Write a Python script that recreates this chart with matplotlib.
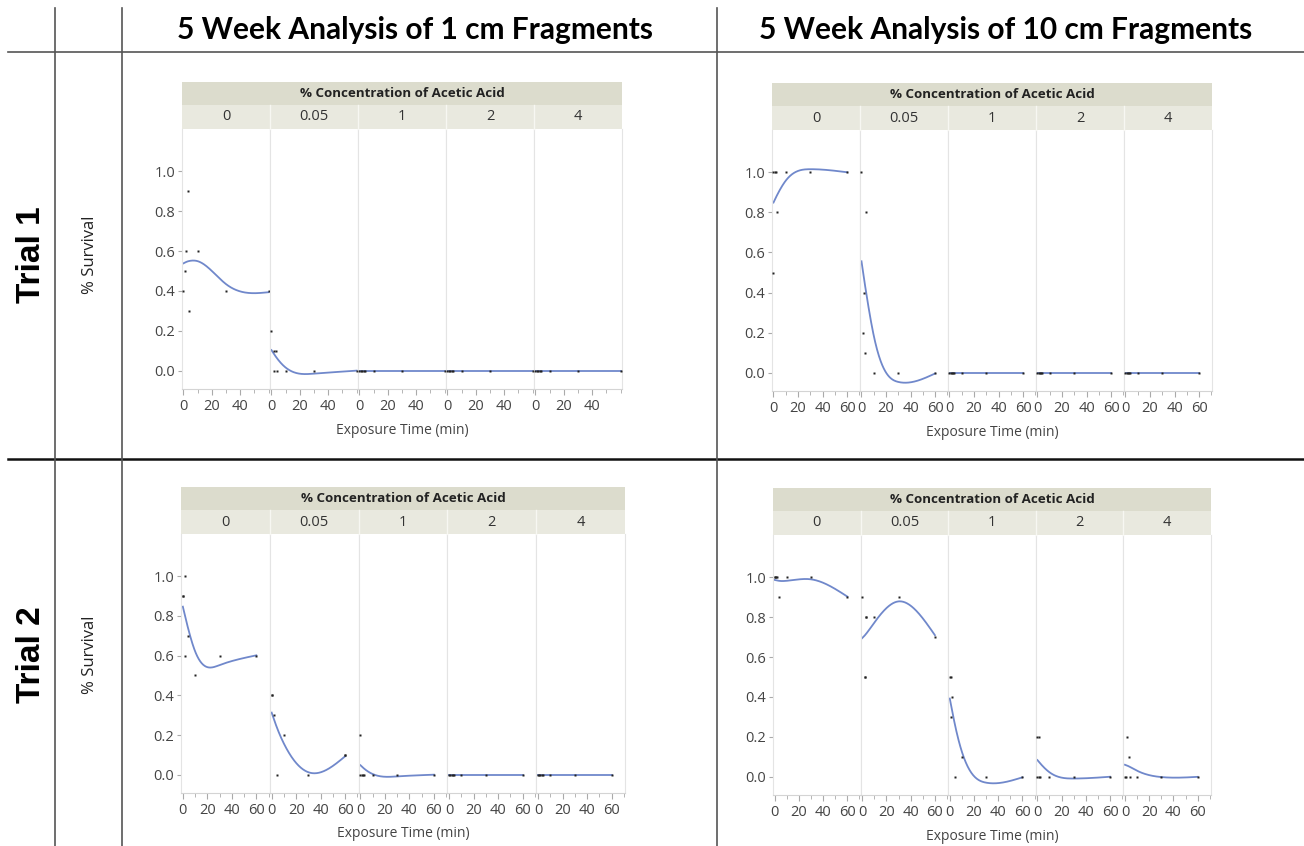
import numpy as np
import matplotlib
matplotlib.use("Agg")
import matplotlib.pyplot as plt
from matplotlib.patches import Rectangle
from matplotlib.lines import Line2D
from matplotlib.ticker import MultipleLocator, FixedLocator

W, H = 1304, 846

concentrations = ["0", "0.05", "1", "2", "4"]
col_titles = ["5 Week Analysis of 1 cm Fragments", "5 Week Analysis of 10 cm Fragments"]
row_titles = ["Trial 1", "Trial 2"]

# long format: facet index into concentrations, exposure time (min), survival
t1_1cm_conc = [0, 0, 0, 0, 0, 0, 0, 0,
               1, 1, 1, 1, 1, 1, 1, 1,
               2, 2, 2, 2, 2, 2, 2, 2,
               3, 3, 3, 3, 3, 3, 3, 3,
               4, 4, 4, 4, 4, 4, 4, 4]
t1_1cm_time = [0, 1, 2, 3, 4, 10, 30, 60,
               0, 2, 3, 2, 4, 10, 30, 60,
               0, 1, 2, 3, 4, 10, 30, 60,
               0, 1, 2, 3, 4, 10, 30, 60,
               0, 1, 2, 3, 4, 10, 30, 60]
t1_1cm_surv = [0.4, 0.5, 0.6, 0.9, 0.3, 0.6, 0.4, 0.4,
               0.2, 0.1, 0.1, 0.0, 0.0, 0.0, 0.0, 0.0,
               0, 0, 0, 0, 0, 0, 0, 0,
               0, 0, 0, 0, 0, 0, 0, 0,
               0, 0, 0, 0, 0, 0, 0, 0]

t1_10cm_conc = t1_1cm_conc
t1_10cm_time = [0, 0, 1, 2, 3, 10, 30, 60,
                0, 1, 2, 3, 4, 10, 30, 60,
                0, 1, 2, 3, 4, 10, 30, 60,
                0, 1, 2, 3, 4, 10, 30, 60,
                0, 1, 2, 3, 4, 10, 30, 60]
t1_10cm_surv = [0.5, 1.0, 1.0, 1.0, 0.8, 1.0, 1.0, 1.0,
                1.0, 0.2, 0.4, 0.1, 0.8, 0.0, 0.0, 0.0,
                0, 0, 0, 0, 0, 0, 0, 0,
                0, 0, 0, 0, 0, 0, 0, 0,
                0, 0, 0, 0, 0, 0, 0, 0]

t2_1cm_conc = t1_1cm_conc
t2_1cm_time = [0, 0, 2, 2, 4, 10, 30, 60,
               0, 0, 2, 4, 10, 30, 60, 60,
               0, 0, 1, 2, 3, 10, 30, 60,
               0, 1, 2, 3, 4, 10, 30, 60,
               0, 1, 2, 3, 4, 10, 30, 60]
t2_1cm_surv = [0.9, 0.9, 1.0, 0.6, 0.7, 0.5, 0.6, 0.6,
               0.4, 0.4, 0.3, 0.0, 0.2, 0.0, 0.1, 0.1,
               0.2, 0, 0, 0, 0, 0, 0, 0,
               0, 0, 0, 0, 0, 0, 0, 0,
               0, 0, 0, 0, 0, 0, 0, 0]

t2_10cm_conc = t1_1cm_conc
t2_10cm_time = [0, 1, 2, 4, 10, 30, 60, 0,
                0, 2, 2, 3, 10, 30, 60, 3,
                0, 1, 1, 2, 4, 10, 30, 60,
                0, 1, 0, 1, 2, 10, 30, 60,
                2, 3, 0, 1, 4, 10, 30, 60]
t2_10cm_surv = [1.0, 1.0, 1.0, 0.9, 1.0, 1.0, 0.9, 1.0,
                0.9, 0.5, 0.5, 0.8, 0.8, 0.9, 0.7, 0.8,
                0.5, 0.5, 0.3, 0.4, 0.0, 0.1, 0.0, 0.0,
                0.2, 0.2, 0.0, 0.0, 0.0, 0.0, 0.0, 0.0,
                0.2, 0.1, 0.0, 0.0, 0.0, 0.0, 0.0, 0.0]


def smooth_spline(x, y, lam=0.05, n=200):
    # cubic smoothing spline on standardized x (Reinsch form)
    x = np.asarray(x, float)
    y = np.asarray(y, float)
    mu, sd = x.mean(), x.std(ddof=1)
    xs = (x - mu) / sd
    ux, inv = np.unique(xs, return_inverse=True)
    w = np.bincount(inv).astype(float)
    ybar = np.bincount(inv, weights=y) / w
    m = len(ux)
    h = np.diff(ux)
    Q = np.zeros((m, m - 2))
    R = np.zeros((m - 2, m - 2))
    for j in range(1, m - 1):
        Q[j - 1, j - 1] = 1 / h[j - 1]
        Q[j, j - 1] = -1 / h[j - 1] - 1 / h[j]
        Q[j + 1, j - 1] = 1 / h[j]
        R[j - 1, j - 1] = (h[j - 1] + h[j]) / 3
        if j < m - 2:
            R[j - 1, j] = R[j, j - 1] = h[j] / 6
    K = Q @ np.linalg.solve(R, Q.T)
    g = np.linalg.solve(np.diag(w) + lam * K, w * ybar)
    gam = np.concatenate([[0], np.linalg.solve(R, Q.T @ g), [0]])
    xx = np.linspace(ux[0], ux[-1], n)
    i = np.clip(np.searchsorted(ux, xx) - 1, 0, m - 2)
    a = xx - ux[i]
    b = ux[i + 1] - xx
    hh = h[i]
    f = (a * g[i + 1] + b * g[i]) / hh - a * b / 6 * ((1 + a / hh) * gam[i + 1] + (1 + b / hh) * gam[i])
    return xx * sd + mu, f


fig = plt.figure(figsize=(W / 100, H / 100), dpi=100)


def fx(px):
    return px / W


def fy(py):
    return 1 - py / H


def line(x0, y0, x1, y1, **kw):
    fig.add_artist(Line2D([fx(x0), fx(x1)], [fy(y0), fy(y1)], **kw))


# table grid
grid_kw = dict(color="#555555", lw=1.2)
line(8, 52, W, 52, **grid_kw)
line(8, 459.5, W, 459.5, color="#111111", lw=1.8)
for gx in [55, 122, 716.5]:
    line(gx, 8, gx, H, **grid_kw)

title_font = ["Lato", "DejaVu Sans"]
jmp_font = ["Open Sans", "DejaVu Sans"]

fig.text(fx(415), fy(30), col_titles[0], ha="center", va="center", fontsize=21.5,
         fontweight="bold", family=title_font)
fig.text(fx(1006), fy(30), col_titles[1], ha="center", va="center", fontsize=21.5,
         fontweight="bold", family=title_font)
for ry, rt in zip([255, 655], row_titles):
    fig.text(fx(31), fy(ry), rt, ha="center", va="center", rotation=90, fontsize=24,
             fontweight="bold", family=["Liberation Sans", "DejaVu Sans"])
    fig.text(fx(90), fy(ry), "% Survival", ha="center", va="center", rotation=90,
             fontsize=12, family=jmp_font, color="#222222")

panels = [
    dict(conc=t1_1cm_conc, time=t1_1cm_time, surv=t1_1cm_surv,
         box=(182, 82, 622, 389), xlim=(-1, 61), ticks=[0, 20, 40], xlab=(402, 430)),
    dict(conc=t1_10cm_conc, time=t1_10cm_time, surv=t1_10cm_surv,
         box=(772, 83, 1212, 391), xlim=(-1.2, 70.5), ticks=[0, 20, 40, 60], xlab=(992, 432)),
    dict(conc=t2_1cm_conc, time=t2_1cm_time, surv=t2_1cm_surv,
         box=(181, 487, 625, 793), xlim=(-1.5, 71), ticks=[0, 20, 40, 60], xlab=(403, 833)),
    dict(conc=t2_10cm_conc, time=t2_10cm_time, surv=t2_10cm_surv,
         box=(773, 488, 1211, 795), xlim=(-1.3, 71), ticks=[0, 20, 40, 60], xlab=(992, 836)),
]

band1 = "#dcdccd"
band2 = "#e9e9df"
edge = "#e4e4e4"
curve_color = "#7088cb"

for p in panels:
    left, top, right, bottom = p["box"]
    mid = top + 23
    ptop = top + 47
    fw = (right - left) / 5

    fig.add_artist(Rectangle((fx(left), fy(mid)), fx(right - left), (mid - top) / H,
                             facecolor=band1, edgecolor="none"))
    fig.add_artist(Rectangle((fx(left), fy(ptop)), fx(right - left), (ptop - mid) / H,
                             facecolor=band2, edgecolor="none"))
    fig.text(fx((left + right) / 2), fy((top + mid) / 2), "% Concentration of Acetic Acid",
             ha="center", va="center", fontsize=9.6, fontweight="bold", family=jmp_font,
             color="#222222")

    conc = np.asarray(p["conc"])
    t = np.asarray(p["time"], float)
    s = np.asarray(p["surv"], float)

    for k, lab in enumerate(concentrations):
        x0 = left + k * fw
        if k > 0:
            line(x0, mid, x0, ptop, color="#f7f7f2", lw=1)
        fig.text(fx(x0 + fw / 2), fy((mid + ptop) / 2), lab, ha="center", va="center",
                 fontsize=10.5, family=jmp_font, color="#333333")

        ax = fig.add_axes([fx(x0), fy(bottom), fx(fw), (bottom - ptop) / H])
        ax.set_xlim(*p["xlim"])
        ax.set_ylim(-0.092, 1.212)
        for sp in ax.spines.values():
            sp.set_color(edge)
            sp.set_linewidth(0.8)
        ax.spines["top"].set_visible(False)
        ax.spines["bottom"].set_color("#d4d4d4")

        sel = conc == k
        tx, sy = smooth_spline(t[sel], s[sel])
        ax.plot(tx, sy, color=curve_color, lw=1.3, zorder=2)
        ax.plot(t[sel], s[sel], "s", ms=2.1, color="#222222", mec="none", zorder=3)

        ax.xaxis.set_major_locator(FixedLocator(p["ticks"]))
        ax.xaxis.set_minor_locator(MultipleLocator(10))
        ax.tick_params(axis="x", which="both", direction="out", color="#aaaaaa",
                       labelsize=10.5, labelcolor="#444444", pad=3)
        ax.tick_params(axis="x", which="major", length=4)
        ax.tick_params(axis="x", which="minor", length=3)
        for tl in ax.get_xticklabels():
            tl.set_family(jmp_font)
        if k == 0:
            ax.set_yticks([0, 0.2, 0.4, 0.6, 0.8, 1.0])
            ax.set_yticklabels(["%.1f" % v for v in [0, 0.2, 0.4, 0.6, 0.8, 1.0]],
                               family=jmp_font)
            ax.tick_params(axis="y", direction="out", length=3, color="#aaaaaa",
                           labelsize=10.5, labelcolor="#444444", pad=2)
        else:
            ax.set_yticks([])

    fig.text(fx(p["xlab"][0]), fy(p["xlab"][1]), "Exposure Time (min)", ha="center",
             va="center", fontsize=10, family=jmp_font, color="#444444")

fig.savefig("out.png", dpi=100)
